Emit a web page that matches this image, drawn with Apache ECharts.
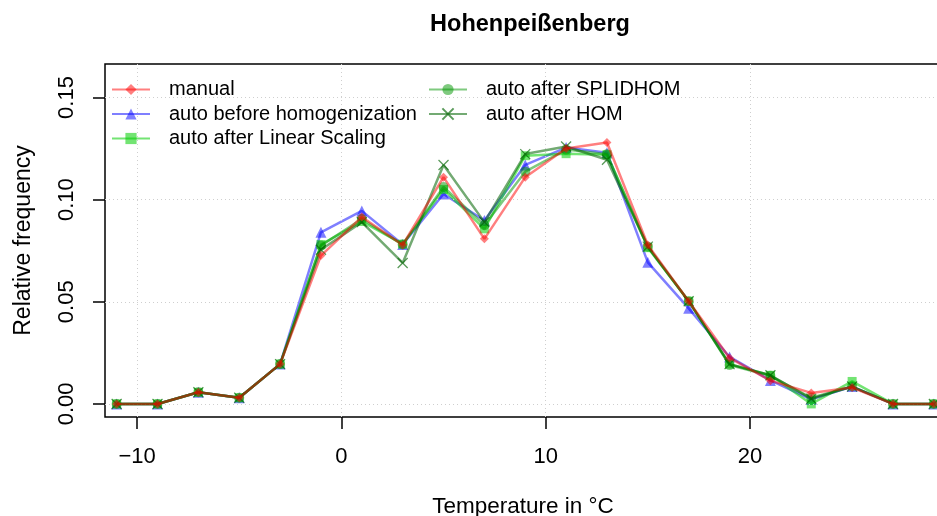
<!DOCTYPE html>
<html>
<head>
<meta charset="utf-8">
<script src="https://cdn.jsdelivr.net/npm/echarts@6/dist/echarts.min.js"></script>
<style>
  html, body { margin: 0; padding: 0; background: #fff; }
  #chart { width: 937px; height: 516px; }
</style>
</head>
<body>
<div id="chart"></div>
<script>
// bin centres (°C)
const temps = [-11, -9, -7, -5, -3, -1, 1, 3, 5, 7, 9, 11, 13, 15, 17, 19, 21, 23, 25, 27, 29]

const manual = [0, 0, 0.0057, 0.003, 0.0195, 0.0726, 0.0915, 0.0778, 0.111, 0.0808, 0.111, 0.125, 0.128, 0.0778, 0.0503, 0.0225, 0.0114, 0.0054, 0.008, 0, 0]
const autoBefore = [0, 0, 0.0057, 0.003, 0.0195, 0.084, 0.0945, 0.078, 0.1028, 0.0898, 0.117, 0.1255, 0.123, 0.0693, 0.0468, 0.023, 0.0115, 0.0022, 0.0085, 0, 0]
const autoLinear = [0, 0, 0.0057, 0.003, 0.0195, 0.078, 0.0893, 0.0782, 0.105, 0.0857, 0.1215, 0.1225, 0.122, 0.0765, 0.0503, 0.0195, 0.014, 0, 0.011, 0, 0]
const autoSplidhom = [0, 0, 0.0057, 0.003, 0.0195, 0.0775, 0.0905, 0.078, 0.1062, 0.0875, 0.1137, 0.1245, 0.1222, 0.077, 0.0503, 0.019, 0.0138, 0.003, 0.0085, 0, 0]
const autoHom = [0, 0, 0.0057, 0.003, 0.0195, 0.0755, 0.089, 0.069, 0.117, 0.089, 0.1223, 0.126, 0.1195, 0.077, 0.0503, 0.0195, 0.014, 0.0025, 0.0085, 0, 0]

const xTicks = [-10, 0, 10, 20]
const yTicks = [0, 0.05, 0.1, 0.15]

const font = 'Liberation Sans, Arial, Helvetica, sans-serif'
const crossPath = 'path://M0,0L10,10M10,0L0,10'

const pairs = (ys) => temps.map((t, i) => [t, ys[i]])

const makeSeries = (name, ys, color, symbol, size, z, extra = {}) => ({
  name,
  type: 'line',
  data: pairs(ys),
  z,
  symbol,
  symbolSize: size,
  showSymbol: true,
  lineStyle: { color, width: 2.5 },
  itemStyle: { color },
  emphasis: { disabled: true },
  ...extra,
})

const legendBase = {
  orient: 'vertical',
  top: 74.5,
  itemGap: 4.5,
  itemWidth: 38,
  itemHeight: 14,
  textStyle: { fontFamily: font, fontSize: 20, color: '#000', padding: [0, 0, 0, 14] },
}

const chart = echarts.init(document.getElementById('chart'))

chart.setOption({
  backgroundColor: '#ffffff',
  animation: false,
  title: {
    text: 'Hohenpeißenberg',
    left: 525,
    top: 8,
    textAlign: 'center',
    textStyle: { fontFamily: font, fontWeight: 'bold', fontSize: 23.5, color: '#000' },
  },
  legend: [
    {
      ...legendBase,
      data: ['manual', 'auto before homogenization', 'auto after Linear Scaling'],
      left: 106,
    },
    {
      ...legendBase,
      data: ['auto after SPLIDHOM', 'auto after HOM'],
      left: 423,
    },
  ],
  grid: {
    left: 105,
    right: -4,
    top: 64,
    bottom: 99,
    outerBoundsMode: 'none',
    show: true,
    borderColor: '#000',
    borderWidth: 1.5,
    backgroundColor: 'transparent',
  },
  xAxis: {
    type: 'value',
    min: -11.57,
    max: 29.35,
    name: 'Temperature in °C',
    nameLocation: 'middle',
    nameGap: 78,
    nameTextStyle: { fontFamily: font, fontSize: 22.5, color: '#000' },
    axisLine: { show: false, onZero: false },
    axisTick: { show: true, length: 12, lineStyle: { color: '#000', width: 1.5 }, customValues: xTicks },
    axisLabel: { fontFamily: font, fontSize: 22, color: '#000', margin: 29, customValues: xTicks, formatter: (v) => String(v).replace('-', '\u2212') },
    splitLine: { show: false },
  },
  yAxis: {
    type: 'value',
    min: -0.0064,
    max: 0.1664,
    name: 'Relative frequency',
    nameLocation: 'middle',
    nameGap: 70,
    nameTextStyle: { fontFamily: font, fontSize: 23, color: '#000' },
    axisLine: { show: false, onZero: false },
    axisTick: { show: true, length: 12, lineStyle: { color: '#000', width: 1.5 }, customValues: yTicks },
    axisLabel: { fontFamily: font, fontSize: 22, color: '#000', margin: 27, rotate: 90, customValues: yTicks, formatter: (v) => v.toFixed(2) },
    splitLine: { show: false },
  },
  series: [
    {
      name: 'grid',
      type: 'line',
      data: [],
      silent: true,
      z: 1,
      markLine: {
        silent: true,
        symbol: 'none',
        label: { show: false },
        lineStyle: { color: '#cfcfcf', width: 1, type: [1, 3] },
        data: [
          ...xTicks.map((v) => ({ xAxis: v })),
          ...yTicks.map((v) => ({ yAxis: v })),
        ],
      },
    },
    makeSeries('auto before homogenization', autoBefore, 'rgba(0,0,255,0.5)', 'triangle', 11, 3),
    makeSeries('auto after Linear Scaling', autoLinear, 'rgba(0,205,0,0.55)', 'rect', 9, 4),
    makeSeries('auto after SPLIDHOM', autoSplidhom, 'rgba(0,150,0,0.5)', 'circle', 10, 5),
    makeSeries('auto after HOM', autoHom, 'rgba(0,100,0,0.55)', crossPath, 10, 6, {
      itemStyle: { color: 'none', borderColor: 'rgba(0,100,0,0.65)', borderWidth: 1.3 },
    }),
    makeSeries('manual', manual, 'rgba(255,0,0,0.5)', 'diamond', 9, 7),
  ],
})
</script>
</body>
</html>
